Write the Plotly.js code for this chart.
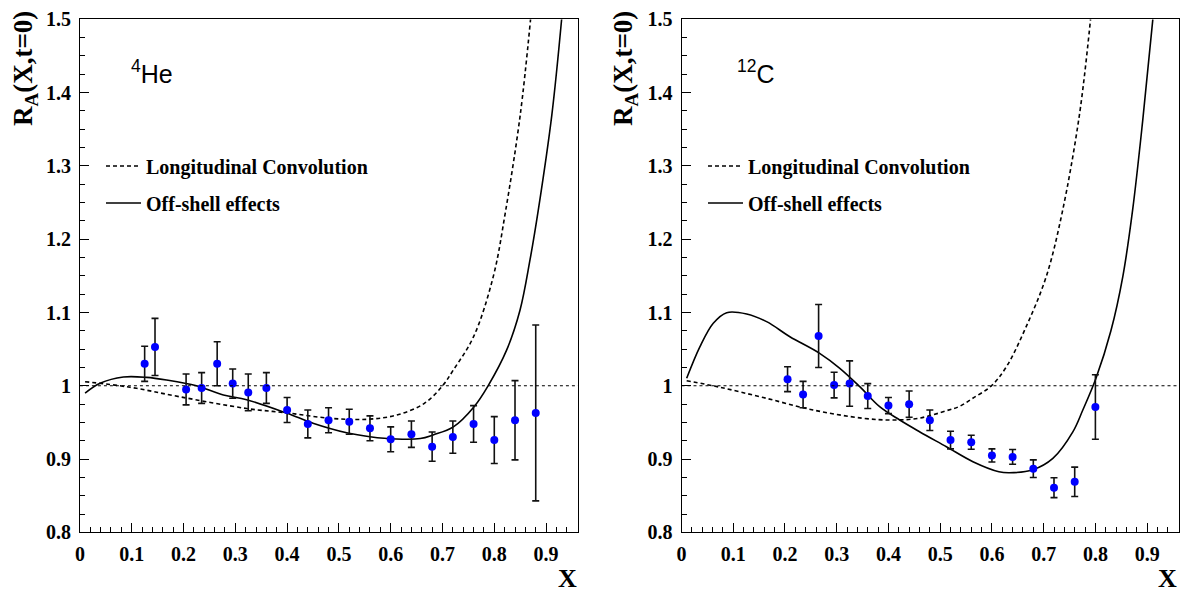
<!DOCTYPE html>
<html>
<head>
<meta charset="utf-8">
<script src="https://cdn.plot.ly/plotly-3.0.1.min.js"></script>
<style>html,body{margin:0;padding:0;background:#fff;}#chart{width:1187px;height:594px;}</style>
</head>
<body>
<div id="chart"></div>
<script>
// ---------- data: 4He panel ----------
const heX   = [0.125,0.145,0.205,0.235,0.265,0.295,0.325,0.36,0.40,0.44,0.48,0.52,0.56,0.60,0.64,0.68,0.72,0.76,0.80,0.84,0.88];
const heY   = [1.030,1.053,0.995,0.997,1.030,1.003,0.991,0.997,0.967,0.948,0.953,0.951,0.942,0.927,0.934,0.917,0.930,0.948,0.926,0.953,0.963];
const heErr = [0.024,0.039,0.021,0.021,0.030,0.020,0.025,0.021,0.017,0.019,0.017,0.017,0.017,0.017,0.018,0.020,0.022,0.025,0.032,0.054,0.120];

const heLongX = [0.01,0.097,0.193,0.322,0.40,0.483,0.554,0.611,0.665,0.70,0.721,0.76,0.798,0.821,0.85,0.87];
const heLongY = [1.0056,0.998,0.985,0.969,0.963,0.9557,0.9543,0.960,0.976,1.0,1.0216,1.067,1.149,1.235,1.369,1.5];

const heOffX = [0.01,0.039,0.084,0.129,0.1675,0.225,0.277,0.322,0.40,0.45,0.515,0.56,0.611,0.657,0.682,0.721,0.761,0.788,0.824,0.8496,0.869,0.885,0.911,0.930];
const heOffY = [0.990,1.0034,1.012,1.0115,1.0079,1.0,0.9874,0.981,0.9625,0.949,0.936,0.9306,0.9274,0.928,0.933,0.944,0.9715,1.0,1.049,1.103,1.172,1.24,1.369,1.5];

// ---------- data: 12C panel ----------
const cX   = [0.205,0.235,0.265,0.295,0.325,0.36,0.40,0.44,0.48,0.52,0.56,0.60,0.64,0.68,0.72,0.76,0.80];
const cY   = [1.009,0.988,1.068,1.001,1.003,0.986,0.973,0.975,0.953,0.926,0.923,0.905,0.903,0.887,0.861,0.869,0.971];
const cErr = [0.017,0.018,0.043,0.0175,0.031,0.017,0.011,0.018,0.014,0.012,0.0095,0.009,0.010,0.012,0.0135,0.020,0.044];

const cLongX = [0.01,0.0743,0.158,0.2544,0.351,0.409,0.4604,0.512,0.5376,0.563,0.599,0.628,0.6664,0.705,0.736,0.769,0.7906];
const cLongY = [1.007,0.998,0.984,0.967,0.9557,0.9533,0.956,0.966,0.972,0.983,1.0,1.026,1.081,1.149,1.237,1.369,1.5];

const cOffX = [0.01,0.0357,0.0614,0.0873,0.126,0.1645,0.2095,0.267,0.306,0.3446,0.383,0.4218,0.46,0.512,0.5633,0.6135,0.634,0.679,0.7178,0.7564,0.7757,0.8015,0.83,0.853,0.872,0.8915,0.911];
const cOffY = [1.0102,1.0534,1.0853,1.0998,1.098,1.0875,1.067,1.0443,1.0239,0.9988,0.9715,0.9533,0.9374,0.9169,0.8965,0.8828,0.8814,0.8855,0.901,0.9372,0.967,1.011,1.075,1.149,1.24,1.362,1.5];

const xTickVals = [0,0.1,0.2,0.3,0.4,0.5,0.6,0.7,0.8,0.9];
const panelLabels = ['<sup>4</sup>He', '<sup>12</sup>C'];
const legendNames = ['Longitudinal Convolution', 'Off-shell effects'];
const yTitle = 'R<sub>A</sub>(X,t=0)';
const xTitle = 'X';

// ---------- layout helpers ----------
const W = 1187, H = 594;
const fx = p => p / W;
const fy = p => 1 - p / H;
const SERIF = 'Liberation Serif, Times New Roman, serif';
const serifB = {family: SERIF, size: 20, color: '#000', weight: 'bold'};

function axisX(domain, anchor) {
  return {domain: domain, anchor: anchor, range: [0, 0.9616], tickvals: xTickVals,
    ticks: 'inside', ticklen: 9, tickwidth: 1, tickcolor: '#000',
    minor: {dtick: 0.02, tick0: 0, ticks: 'inside', ticklen: 5, tickwidth: 1, tickcolor: '#000', showgrid: false},
    showline: true, mirror: true, linecolor: '#000', linewidth: 1,
    showgrid: false, zeroline: false, tickfont: serifB, ticklabelstandoff: 4};
}
function axisY(domain, anchor) {
  return {domain: domain, anchor: anchor, range: [0.8, 1.5], dtick: 0.1, tick0: 0.8,
    ticks: 'inside', ticklen: 9, tickwidth: 1, tickcolor: '#000',
    minor: {dtick: 0.025, tick0: 0.8, ticks: 'inside', ticklen: 5, tickwidth: 1, tickcolor: '#000', showgrid: false},
    showline: true, mirror: true, linecolor: '#000', linewidth: 1,
    showgrid: false, zeroline: false, tickfont: serifB, ticklabelstandoff: 4};
}

const dataTrace = (x, y, e, xa, ya) => ({
  x: x, y: y, xaxis: xa, yaxis: ya, type: 'scatter', mode: 'markers', showlegend: false,
  marker: {color: '#0000ff', size: 8},
  error_y: {type: 'data', array: e, visible: true, color: '#111', thickness: 1.6, width: 3.5}
});
const curve = (x, y, xa, ya, dash, name, leg, grp) => ({
  x: x, y: y, xaxis: xa, yaxis: ya, type: 'scatter', mode: 'lines', name: name,
  legend: leg, legendgroup: grp, showlegend: true,
  line: {color: '#000', width: 1.6, dash: dash, shape: 'spline', smoothing: 1}
});

const dashPat = '4px,3px';
const traces = [
  curve(heLongX, heLongY, 'x', 'y', dashPat, legendNames[0], 'legend', 'a1'),
  curve(heOffX, heOffY, 'x', 'y', 'solid', legendNames[1], 'legend', 'a2'),
  dataTrace(heX, heY, heErr, 'x', 'y'),
  curve(cLongX, cLongY, 'x2', 'y2', dashPat, legendNames[0], 'legend2', 'b1'),
  curve(cOffX, cOffY, 'x2', 'y2', 'solid', legendNames[1], 'legend2', 'b2'),
  dataTrace(cX, cY, cErr, 'x2', 'y2')
];

const yDom = [fy(532.4), fy(19.3)];
const legendStyle = (xpx) => ({
  x: fx(xpx), y: fy(146.5), xanchor: 'left', yanchor: 'top', xref: 'paper', yref: 'paper',
  bgcolor: 'rgba(0,0,0,0)', borderwidth: 0, traceorder: 'grouped', tracegroupgap: 8,
  font: {family: SERIF, size: 20, color: '#000', weight: 'bold'},
  itemwidth: 35
});

const layout = {
  width: W, height: H, margin: {l: 0, r: 0, t: 0, b: 0},
  paper_bgcolor: '#fff', plot_bgcolor: '#fff', showlegend: true,
  xaxis: axisX([fx(79.9), fx(578)], 'y'),
  yaxis: axisY(yDom, 'x'),
  xaxis2: axisX([fx(681.5), fx(1179)], 'y2'),
  yaxis2: axisY(yDom, 'x2'),
  legend: legendStyle(101),
  legend2: legendStyle(703),
  shapes: [
    {type: 'line', xref: 'x domain', yref: 'y', x0: 0, x1: 1, y0: 1, y1: 1, line: {color: '#000', width: 1.1, dash: 'dot'}},
    {type: 'line', xref: 'x2 domain', yref: 'y2', x0: 0, x1: 1, y0: 1, y1: 1, line: {color: '#000', width: 1.1, dash: 'dot'}}
  ],
  annotations: [
    {text: panelLabels[0], xref: 'paper', yref: 'paper', x: fx(129), y: fy(72), xanchor: 'left', yanchor: 'middle', showarrow: false,
     font: {family: 'Liberation Sans, Arial, sans-serif', size: 25, color: '#000'}},
    {text: panelLabels[1], xref: 'paper', yref: 'paper', x: fx(735), y: fy(72), xanchor: 'left', yanchor: 'middle', showarrow: false,
     font: {family: 'Liberation Sans, Arial, sans-serif', size: 25, color: '#000'}},
    {text: yTitle, xref: 'paper', yref: 'paper', x: fx(25), y: fy(69), xanchor: 'center', yanchor: 'middle', textangle: -90, showarrow: false,
     font: {family: SERIF, size: 27, color: '#000', weight: 'bold'}},
    {text: yTitle, xref: 'paper', yref: 'paper', x: fx(625), y: fy(69), xanchor: 'center', yanchor: 'middle', textangle: -90, showarrow: false,
     font: {family: SERIF, size: 27, color: '#000', weight: 'bold'}},
    {text: xTitle, xref: 'paper', yref: 'paper', x: fx(567), y: fy(578), xanchor: 'center', yanchor: 'middle', showarrow: false,
     font: {family: SERIF, size: 26, color: '#000', weight: 'bold'}},
    {text: xTitle, xref: 'paper', yref: 'paper', x: fx(1167), y: fy(578), xanchor: 'center', yanchor: 'middle', showarrow: false,
     font: {family: SERIF, size: 26, color: '#000', weight: 'bold'}}
  ]
};

Plotly.newPlot('chart', traces, layout, {displayModeBar: false, staticPlot: true});
</script>
</body>
</html>
